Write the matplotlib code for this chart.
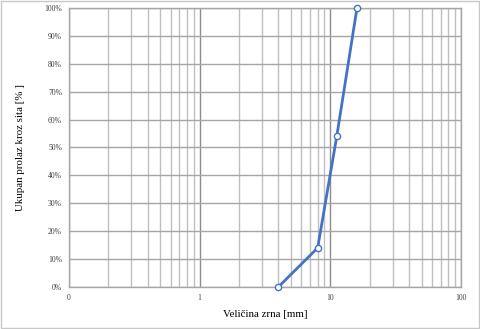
import matplotlib
matplotlib.use("Agg")
import matplotlib.pyplot as plt
from matplotlib.ticker import FixedLocator, FixedFormatter, NullFormatter
from matplotlib.patches import Rectangle

sizes = [4, 8, 11.2, 16]
passing = [0, 14, 54, 100]
x_ticks = [0.1, 1, 10, 100]
x_labels = ["0", "1", "10", "100"]
y_ticks = list(range(0, 101, 10))
y_labels = [f"{v}%" for v in y_ticks]

fig = plt.figure(figsize=(4.8, 3.29), dpi=100)
ax = fig.add_axes([0.1437, 0.1277, 0.8167, 0.848])
ax.set_xscale("log")
ax.set_xlim(0.1, 100)
ax.set_ylim(0, 100)

minor = [m * 10.0**e for e in (-1, 0, 1) for m in range(2, 10)]
ax.xaxis.set_major_locator(FixedLocator(x_ticks))
ax.xaxis.set_major_formatter(FixedFormatter(x_labels))
ax.xaxis.set_minor_locator(FixedLocator(minor))
ax.xaxis.set_minor_formatter(NullFormatter())
ax.yaxis.set_major_locator(FixedLocator(y_ticks))
ax.yaxis.set_major_formatter(FixedFormatter(y_labels))

ax.grid(True, which="major", axis="x", color="#8c8c8c", lw=1.0)
ax.grid(True, which="minor", axis="x", color="#bfbfbf", lw=1.0)
ax.grid(True, which="major", axis="y", color="#a6a6a6", lw=1.0)
ax.set_axisbelow(True)
for s in ax.spines.values():
    s.set_color("#a6a6a6")
    s.set_linewidth(1.0)
ax.tick_params(which="both", length=0, labelsize=5.5, pad=5)
for lab in ax.get_xticklabels() + ax.get_yticklabels():
    lab.set_family("Liberation Serif")
    lab.set_color("#404040")

ax.plot(sizes, passing, color="#4472C4", lw=2, marker="o", ms=4.5,
        mfc="white", mec="#4472C4", mew=1.0, clip_on=False, zorder=5)

ax.set_xlabel("Veličina zrna [mm]", family="Liberation Serif", fontsize=7.8, labelpad=6)
ax.set_ylabel("Ukupan prolaz kroz sita [% ]", family="Liberation Serif", fontsize=7.8, labelpad=14)

fig.patches.append(Rectangle((0.002, 0.003), 0.996, 0.994, transform=fig.transFigure,
                             fill=False, edgecolor="#c8c8c8", lw=1.0))
fig.savefig("out.png", dpi=100)
